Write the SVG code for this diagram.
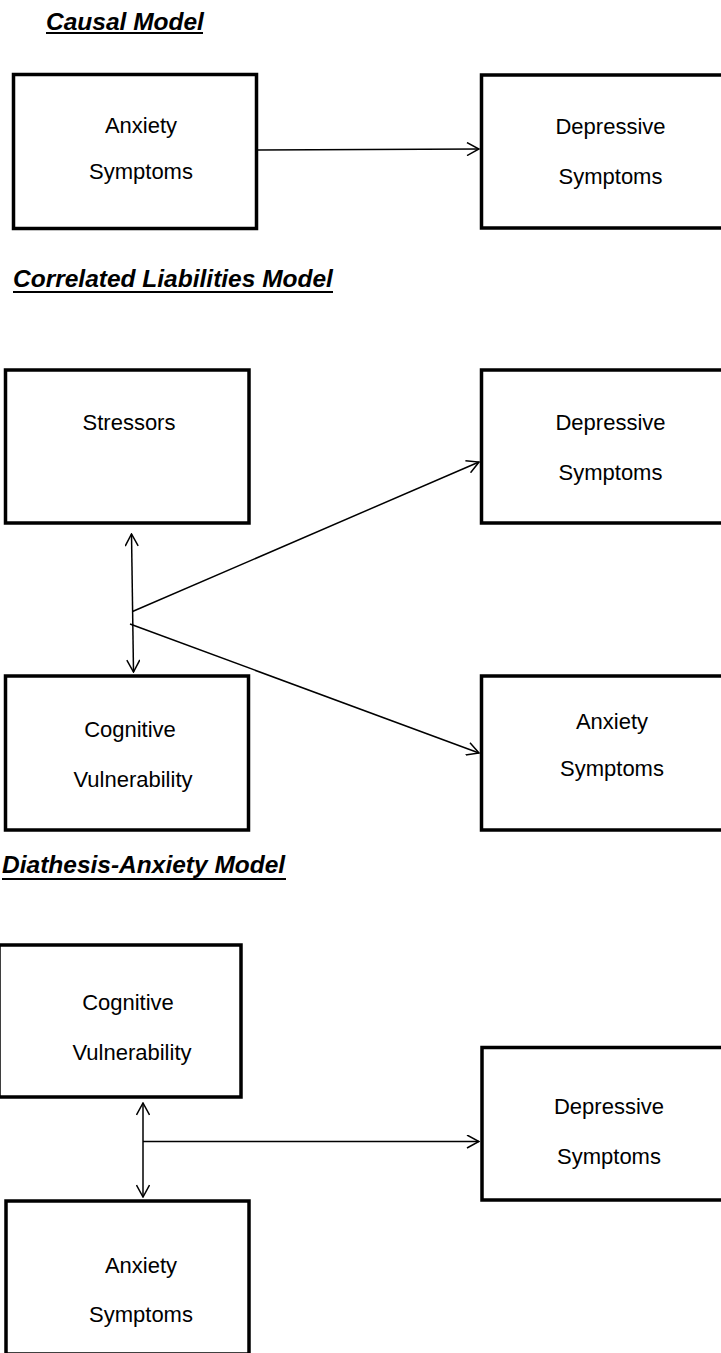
<svg xmlns="http://www.w3.org/2000/svg" width="721" height="1353" viewBox="0 0 721 1353">
<style>
.box{fill:#fff;stroke:#000;stroke-width:3.5}
.lbl{font-family:"Liberation Sans",Arial,sans-serif;font-size:22px;fill:#000;text-anchor:middle}
.ttl{font-family:"Liberation Sans",Arial,sans-serif;font-size:24.5px;font-weight:bold;font-style:italic;fill:#000}
.ul{stroke:#000;stroke-width:2}
.con{stroke:#000;stroke-width:1.5;fill:none}
</style>
<defs>
<marker id="arr" viewBox="0 0 14 14" refX="13" refY="7" markerWidth="14" markerHeight="14" markerUnits="userSpaceOnUse" orient="auto-start-reverse">
<path d="M1,0.5 L13,7 L1,13.5" fill="none" stroke="#000" stroke-width="1.5"/>
</marker>
</defs>
<rect width="721" height="1353" fill="#fff"/>

<g id="title-causal">
<text class="ttl" x="46" y="29.5">Causal Model</text>
<line class="ul" x1="46" y1="33" x2="203" y2="33"/>
</g>
<g id="title-correlated">
<text class="ttl" x="13" y="287">Correlated Liabilities Model</text>
<line class="ul" x1="13" y1="292" x2="333" y2="292"/>
</g>
<g id="title-diathesis">
<text class="ttl" x="2" y="873">Diathesis-Anxiety Model</text>
<line class="ul" x1="2" y1="879" x2="286" y2="879"/>
</g>

<g id="c-anxiety">
<rect class="box" x="13.5" y="74.5" width="243" height="154"/>
<text class="lbl" x="141" y="133">Anxiety</text>
<text class="lbl" x="141" y="179">Symptoms</text>
</g>
<g id="c-depressive">
<rect class="box" x="481.5" y="75" width="242" height="153"/>
<text class="lbl" x="610.5" y="134">Depressive</text>
<text class="lbl" x="610.5" y="184">Symptoms</text>
</g>

<g id="cl-stressors">
<rect class="box" x="5.5" y="370" width="243.5" height="153"/>
<text class="lbl" x="129" y="430">Stressors</text>
</g>
<g id="cl-depressive">
<rect class="box" x="481.5" y="370" width="242" height="153"/>
<text class="lbl" x="610.5" y="430">Depressive</text>
<text class="lbl" x="610.5" y="480">Symptoms</text>
</g>
<g id="cl-cognitive">
<rect class="box" x="5.5" y="676" width="243" height="154"/>
<text class="lbl" x="130" y="737">Cognitive</text>
<text class="lbl" x="133" y="787">Vulnerability</text>
</g>
<g id="cl-anxiety">
<rect class="box" x="481.5" y="676" width="242" height="154"/>
<text class="lbl" x="612" y="729">Anxiety</text>
<text class="lbl" x="612" y="776">Symptoms</text>
</g>

<g id="d-cognitive">
<rect class="box" x="-1" y="945" width="242" height="152"/>
<text class="lbl" x="128" y="1010">Cognitive</text>
<text class="lbl" x="132" y="1060">Vulnerability</text>
</g>
<g id="d-depressive">
<rect class="box" x="482" y="1047.5" width="241.5" height="152.5"/>
<text class="lbl" x="609" y="1114">Depressive</text>
<text class="lbl" x="609" y="1164">Symptoms</text>
</g>
<g id="d-anxiety">
<rect class="box" x="6" y="1201" width="243" height="153"/>
<text class="lbl" x="141" y="1273">Anxiety</text>
<text class="lbl" x="141" y="1322">Symptoms</text>
</g>

<g id="connectors">
<line class="con" x1="258" y1="150" x2="479" y2="149" marker-end="url(#arr)"/>
<line class="con" x1="131.5" y1="534" x2="133.5" y2="672" marker-start="url(#arr)" marker-end="url(#arr)"/>
<line class="con" x1="132.5" y1="611.5" x2="479" y2="462" marker-end="url(#arr)"/>
<line class="con" x1="130" y1="624" x2="479" y2="753" marker-end="url(#arr)"/>
<line class="con" x1="143" y1="1103" x2="143" y2="1197" marker-start="url(#arr)" marker-end="url(#arr)"/>
<line class="con" x1="143" y1="1141.5" x2="479" y2="1141.5" marker-end="url(#arr)"/>
</g>
</svg>
